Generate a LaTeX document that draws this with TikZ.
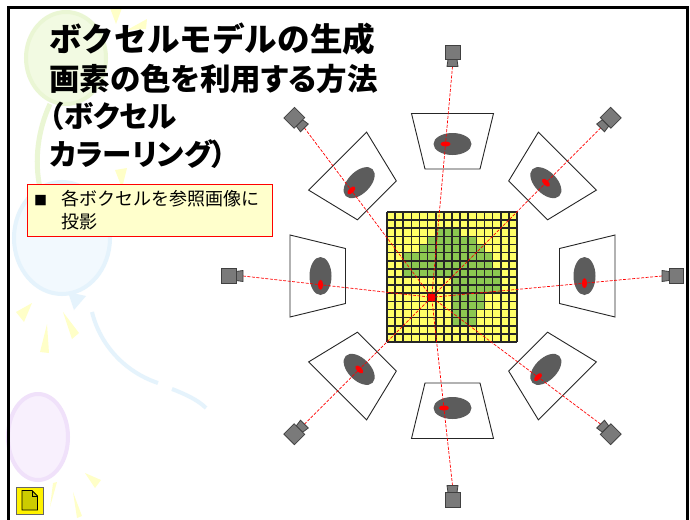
\documentclass[tikz,border=0pt]{standalone}
\usepackage{fontspec}
\newfontfamily\jp{Noto Sans CJK JP}
\newfontfamily\jpp{Noto Sans CJK JP}[RawFeature=+palt]
\definecolor{gridyellow}{RGB}{255,255,102}
\definecolor{gridgreen}{RGB}{140,200,80}
\definecolor{camgray}{RGB}{122,122,122}
\definecolor{blobgray}{RGB}{92,92,92}
\definecolor{notefill}{RGB}{255,255,204}
\definecolor{docfill}{RGB}{204,204,0}
\definecolor{balgreen}{RGB}{242,250,226}
\definecolor{balgreenedge}{RGB}{234,246,212}
\definecolor{balblue}{RGB}{242,249,254}
\definecolor{balblueedge}{RGB}{229,243,252}
\definecolor{balpurple}{RGB}{248,240,253}
\definecolor{balpurpleedge}{RGB}{240,225,250}
\definecolor{rayyellow}{RGB}{255,255,200}
\tikzset{
  gridline/.style={line width=1.6pt, black!85},
  ray/.style={red, line width=0.7pt, dash pattern=on 3pt off 1.5pt},
  plane/.style={draw=black!85, fill=white, line width=0.9pt},
  cambody/.style={draw=black!75, fill=camgray, line width=0.8pt},
  titletext/.style={anchor=base west, inner sep=0pt},
  notetext/.style={anchor=base west, inner sep=0pt, font=\jp\fontsize{18}{18}\selectfont},
  sparkle/.style={fill=rayyellow},
}
\begin{document}
\begin{tikzpicture}[x=1pt,y=-1pt]
\useasboundingbox (0,0) rectangle (690,519);
\fill[white] (0,0) rectangle (690,519);

% faint balloons in the slide background
\fill[balgreen, draw=balgreenedge, line width=4pt] (66,58) ellipse [x radius=40pt, y radius=46pt];
\draw[balgreenedge, line width=5pt] (50,104) .. controls (38,130) and (34,160) .. (40,188);
\fill[balblue, draw=balblueedge, line width=4pt] (62,238) ellipse [x radius=48pt, y radius=56pt];
\fill[balblueedge] (68,292) -- (86,296) -- (74,310) -- cycle;
\draw[balblueedge, line width=4pt] (92,312) .. controls (100,345) and (125,372) .. (158,383);
\draw[balblueedge, line width=4pt] (172,389) .. controls (185,394) and (198,400) .. (206,408);
\fill[balpurple, draw=balpurpleedge, line width=4pt] (38,437) ellipse [x radius=30pt, y radius=43pt];
\fill[sparkle] (110,8) -- (122,8) -- (116,24) -- cycle;
\fill[sparkle] (127,30) -- (147,19) -- (146,29) -- cycle;
\fill[sparkle] (115,170) -- (127,168) -- (122,188) -- cycle;
\fill[sparkle] (16,312) -- (32,303) -- (24,322) -- cycle;
\fill[sparkle] (40,352) -- (47,324) -- (49,353) -- cycle;
\fill[sparkle] (63,312) -- (79,333) -- (72,339) -- cycle;
\fill[sparkle] (85,473) -- (101,480) -- (95,488) -- cycle;
\fill[sparkle] (53,483) -- (57,482) -- (50,507) -- cycle;
\fill[sparkle] (73,492) -- (82,516) -- (77,518) -- cycle;

% slide frame
\draw[black, line width=3pt] (8.5,7.5) rectangle (687.5,530);

% title
\node[titletext, font=\jp\bfseries\fontsize{32.6}{32.6}\selectfont] (t1) at (49,52) {ボクセルモデルの生成};
\node[titletext, font=\jpp\bfseries\fontsize{30.5}{30.5}\selectfont] (t2) at (49,90) {画素の色を利用する方法};
\node[titletext, font=\jpp\bfseries\fontsize{29.5}{29.5}\selectfont] (t3) at (49,127) {（ボクセル};
\node[titletext, font=\jpp\bfseries\fontsize{29.5}{29.5}\selectfont] (t4) at (49,165) {カラーリング）};

% note box
\node[draw=red, fill=notefill, line width=1pt, minimum width=245, minimum height=52,
      inner sep=0pt, anchor=north west] (note) at (27,184) {};
\node[anchor=base west, inner sep=0pt, font=\jp\fontsize{13}{13}\selectfont] (bullet) at (34,205) {■};
\node[notetext] (n1) at (61,205) {各ボクセルを参照画像に};
\node[notetext] (n2) at (61,228) {投影};

% voxel grid 16 x 16
\fill[gridyellow] (387,212) rectangle (517,342);
\foreach \r/\a/\b in {2/6/8, 3/5/10, 4/4/11, 5/2/12, 6/2/12, 7/2/13, 8/8/13, 9/8/13,
                      10/8/11, 11/8/11, 12/8/10, 13/8/10} {
  \foreach \c in {\a,...,\b}
    \fill[gridgreen] ({387+\c*8.125},{212+\r*8.125}) rectangle ++(8.125,8.125);
}
\fill[red] ({387+5*8.125},{212+10*8.125}) rectangle ++(8.125,8.125);
\foreach \k in {0,...,16} {
  \draw[gridline] ({387+\k*8.125},212) -- ({387+\k*8.125},342);
  \draw[gridline] (387,{212+\k*8.125}) -- (517,{212+\k*8.125});
}
\coordinate (voxel) at ({387+5.5*8.125},{212+10.5*8.125});

% eight cameras with their image planes
\foreach \ang [count=\n] in {90,45,0,-45,-90,-135,180,135} {
  \begin{scope}[shift={(452.5,276)}, rotate=\ang]
    \draw[plane] (162.5,-41) -- (162.5,41) -- (107,27.5) -- (107,-27.5) -- cycle;
    \fill[blobgray] (132,0) ellipse [x radius=11pt, y radius=19pt];
    \coordinate (lens\n) at (209.5,0);
    \coordinate (pa\n) at (132,-30);
    \coordinate (pb\n) at (132,30);
    \draw[ray] (lens\n) -- (voxel);
    \fill[red] (intersection of lens\n--voxel and pa\n--pb\n) ellipse [x radius=2.6pt, y radius=5pt];
    \draw[cambody] (209.5,-5.5) -- (216.5,-4.5) -- (216.5,4.5) -- (209.5,5.5) -- cycle;
    \draw[cambody] (216.5,-7.5) rectangle (231,7.5);
  \end{scope}
}

% page icon, lower left
\node[draw=black!60, fill=yellow, line width=1pt, minimum size=27, inner sep=0pt] (icon) at (29.8,500.5) {};
\draw[fill=docfill, draw=black, line width=0.8pt]
  (22,490.5) -- (32,490.5) -- (37.5,496) -- (37.5,510) -- (22,510) -- cycle;
\draw[black, line width=0.6pt] (32,490.5) -- (32,496) -- (37.5,496);
\end{tikzpicture}
\end{document}
